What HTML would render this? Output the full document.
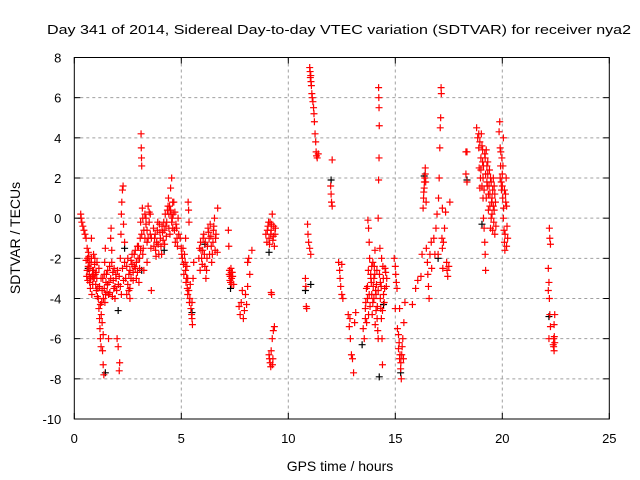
<!DOCTYPE html>
<html><head><meta charset="utf-8"><style>
body{margin:0;background:#fff}
svg{display:block;font-family:"Liberation Sans",sans-serif}
</style></head><body>
<svg id="chart" width="640" height="480" viewBox="0 0 640 480" xmlns="http://www.w3.org/2000/svg">
<rect width="640" height="480" fill="#fff"/>
<text x="339" y="34" font-size="13" text-anchor="middle" textLength="584" lengthAdjust="spacingAndGlyphs">Day 341 of 2014, Sidereal Day-to-day VTEC variation (SDTVAR) for receiver nya2</text>
<g id="grid"></g>
<g id="marksB"></g>
<g id="marksR"></g>
<g id="axes"></g>
<text x="340" y="471" font-size="14" text-anchor="middle">GPS time / hours</text>
<text x="0" y="0" font-size="14" text-anchor="middle" transform="translate(20,238) rotate(-90)">SDTVAR / TECUs</text>
</svg>
<script>
const xTicks=[0,5,10,15,20,25];
const yTicks=[-10,-8,-6,-4,-2,0,2,4,6,8];
const redHours=[0.30,0.32,0.35,0.40,0.45,0.50,0.55,0.60,0.62,0.65,0.70,0.72,0.75,0.78,0.80,0.85,0.88,0.90,0.95,1.00,1.02,0.58,0.68,0.82,
1.05,1.10,1.12,1.15,1.18,1.20,1.22,1.25,1.28,1.30,1.32,1.35,1.38,1.40,1.42,1.45,1.48,1.35,1.25,1.15,
1.55,1.60,1.65,1.70,1.72,1.75,1.80,1.85,1.90,1.95,2.00,2.05,2.10,2.12,2.15,2.18,2.20,2.22,2.25,2.28,2.30,2.35,1.60,
2.45,2.50,2.55,2.60,2.65,2.70,2.75,2.80,2.85,2.90,2.95,2.98,2.60,
3.02,3.05,3.08,3.10,3.12,3.13,3.14,3.15,3.18,3.20,3.22,3.25,3.30,3.35,3.40,3.45,3.50,3.55,3.58,3.60,3.40,
3.70,3.75,3.80,3.85,3.90,3.95,4.00,4.05,4.10,4.15,4.20,4.25,4.30,
4.35,4.40,4.45,4.50,4.55,4.58,4.60,4.65,4.70,4.75,4.80,4.85,4.42,4.52,
4.95,5.00,5.05,5.10,5.15,5.20,5.25,5.28,5.30,5.32,5.34,5.36,5.40,5.45,5.50,5.52,5.55,5.58,5.20,
5.85,5.90,5.95,6.00,6.05,6.10,6.15,6.20,6.25,6.30,6.35,6.40,6.45,6.50,6.55,6.60,6.70,6.68,
7.20,7.22,7.25,7.28,7.30,7.32,7.35,7.38,7.45,
7.70,7.75,7.80,7.85,7.90,7.95,8.00,8.05,8.10,8.15,8.30,8.20,8.10,
8.95,9.00,9.05,9.10,9.15,9.20,9.25,9.30,9.35,9.40,9.20,9.22,9.10,9.15,9.18,9.25,9.30,9.35,9.28,
10.80,10.82,10.84,10.86,10.90,10.92,10.95,11.00,11.02,11.05,11.08,11.10,11.15,11.20,11.22,11.25,11.28,11.30,11.35,11.40,11.00,11.05,
12.05,11.98,12.00,12.02,12.05,
12.35,12.40,12.42,12.45,12.50,12.55,12.50,
12.80,12.85,12.90,12.95,13.00,13.05,12.88,13.10,13.15,
13.50,13.55,13.60,13.65,13.70,13.72,13.75,13.78,13.80,13.85,13.88,13.90,13.95,14.00,14.02,14.05,14.08,14.10,14.15,14.18,14.20,14.22,14.23,14.24,14.25,14.24,14.22,14.20,14.28,14.30,14.32,14.35,14.38,14.40,14.42,14.45,14.50,14.55,14.60,13.60,13.75,13.95,14.12,
14.95,15.00,15.02,15.05,15.08,15.00,15.10,15.15,15.20,15.25,15.28,15.30,15.35,15.40,15.45,15.20,15.15,
15.80,15.95,16.05,16.20,16.25,16.30,16.32,16.35,16.38,16.40,16.42,16.45,16.50,16.52,16.55,16.58,16.62,16.68,16.70,
16.80,16.85,16.90,16.95,17.00,17.02,17.05,17.08,17.10,17.12,17.14,17.15,17.18,17.20,17.22,17.25,17.30,17.35,17.40,17.42,17.45,17.50,17.55,17.20,
18.30,18.35,18.30,18.35,
18.80,18.85,18.90,18.92,18.95,18.98,19.00,19.02,19.05,19.08,19.10,19.12,19.15,19.18,19.20,19.22,19.25,19.28,19.30,19.32,19.35,19.40,19.42,19.45,19.48,19.50,19.52,19.55,19.58,19.60,19.62,19.65,19.70,19.10,19.20,
19.85,19.88,19.90,19.92,19.95,19.98,20.00,20.02,20.05,20.08,20.10,20.12,20.15,20.18,20.20,20.22,20.25,20.05,
22.20,22.22,22.25,22.15,22.18,22.15,22.20,22.22,22.25,22.18,22.45,22.42,22.40,22.38,22.42,22.45];
const redValues=[0.2,0.0,-0.2,-0.4,-0.6,-0.8,-1.0,-1.5,-2.0,-2.4,-2.8,-3.2,-3.5,-2.2,-1.0,-2.6,-3.0,-1.8,-2.3,-3.3,-2.7,-2.9,-1.9,-3.8,
-3.0,-3.5,-4.0,-4.5,-5.0,-5.5,-6.0,-6.4,-4.2,-3.6,-6.6,-7.3,-7.8,-2.8,-2.2,-1.5,-3.2,-5.8,-3.0,-2.5,
-3.3,-3.8,-2.4,-1.0,-0.5,-1.6,-2.7,-3.5,-4.0,-3.0,-6.0,-6.4,-7.6,-7.2,-2.0,-0.8,0.2,0.8,1.4,1.6,-0.3,-1.2,-6.0,
-3.8,-3.3,-2.8,-3.5,-3.0,-2.3,-2.7,-1.8,-2.5,-3.0,-1.4,-2.0,-4.0,
-3.2,-2.0,-1.0,-0.2,4.2,3.5,3.0,2.6,0.5,0.0,-1.5,-2.6,0.2,-0.3,-1.2,0.6,0.3,-0.8,-1.5,-3.6,-2.2,
-0.5,-1.0,-1.6,-1.2,-0.2,-1.8,-0.7,-1.4,-0.4,-1.1,-0.6,0.2,-0.9,
0.4,1.0,0.6,1.5,2.0,0.0,-0.5,0.8,0.3,-0.3,-1.0,0.0,-0.5,0.2,
-1.0,-1.5,-2.0,-2.3,-1.8,-2.6,-3.0,-3.5,-3.8,0.8,0.4,-0.2,-4.0,-4.5,-5.0,-5.3,-3.0,-2.2,-1.0,
-1.5,-1.2,-2.0,-1.6,-0.8,-2.4,-3.0,-2.0,-0.5,-1.0,-0.3,-1.4,-1.8,-0.6,0.0,-1.0,0.5,-1.7,
-0.6,-1.4,-2.6,-2.9,-3.2,-2.5,-3.0,-2.7,-3.3,
-4.4,-4.8,-4.2,-3.6,-5.0,-4.6,-3.8,-4.3,-2.2,-2.0,-1.6,-2.8,-3.4,
-0.8,-1.2,-0.4,-1.0,-0.2,-0.6,0.2,-0.9,-1.4,-0.5,-3.7,-3.8,-6.8,-7.2,-7.4,-6.0,-5.6,-5.4,-7.0,
-3.0,-3.4,-4.4,-4.5,-0.3,-0.8,-1.2,7.5,7.3,7.1,6.6,6.2,5.8,5.2,4.8,4.2,3.8,3.3,3.0,3.2,-1.5,-1.8,
2.9,1.6,1.2,0.8,0.6,
-2.2,-2.6,-3.0,-3.4,-3.8,-4.0,-2.3,
-4.8,-5.4,-6.0,-6.8,-7.0,-7.7,-5.0,-5.2,-4.7,
-5.5,-6.0,-4.5,-3.5,-4.0,-0.1,-0.5,-1.2,-2.0,-2.8,-3.2,-3.8,-4.2,-3.0,-2.4,-1.6,-3.6,-4.6,-5.0,-5.6,-6.0,6.5,6.0,5.5,4.6,3.0,1.9,0.0,-1.5,-3.2,-4.5,-5.0,-6.0,-7.3,-2.4,-3.8,-3.5,-2.7,-3.0,-5.0,-4.8,-2.2,-3.3,
-2.0,-2.4,-2.8,-3.2,-3.5,-4.5,-5.5,-6.5,-7.0,-7.5,-8.0,-6.8,-6.0,-5.2,-4.2,-4.5,-5.8,
-4.3,-3.5,-3.1,-2.9,-1.8,0.5,1.0,1.5,2.0,2.5,1.8,-1.5,-2.2,-2.8,-3.4,-4.0,-1.8,-1.2,-2.5,
-1.0,-1.8,-0.5,0.2,-1.8,1.0,2.0,3.5,4.5,5.0,6.5,6.2,-1.0,-1.5,-2.5,-1.2,-0.5,0.3,-2.2,-2.6,-2.9,-2.4,0.8,0.5,
3.3,3.3,2.2,1.8,
4.5,4.0,3.5,2.5,1.5,2.0,3.0,4.2,3.6,2.8,1.0,0.0,-0.5,-1.2,-1.8,-2.6,3.4,2.6,1.6,2.2,1.2,2.4,0.6,-0.5,1.8,0.8,0.2,1.4,2.0,-0.2,0.4,1.2,-0.4,2.0,3.0,
4.3,4.8,3.5,2.6,1.8,3.0,2.2,1.0,0.0,-0.6,-1.2,-1.6,1.2,2.0,0.6,-0.4,-1.0,4.0,
-0.5,-1.0,-1.3,-2.5,-3.2,-3.6,-4.0,-4.8,-5.4,-6.0,-4.8,-5.3,-6.0,-6.3,-6.6,-6.2];
const redHoursDense=[0.55,0.60,0.63,0.66,0.70,0.73,0.76,0.80,0.83,0.86,0.90,0.93,0.96,0.98,1.03,1.06,1.08,
1.18,1.22,1.26,1.30,1.33,1.36,1.40,1.43,1.46,1.50,1.53,1.56,
1.62,1.66,1.70,1.75,1.78,1.82,1.86,1.90,1.94,1.98,2.02,2.06,
2.10,2.15,2.20,2.25,2.30,2.35,2.40,2.45,2.50,2.55,2.60,2.65,2.70,2.75,2.80,2.85,2.90,2.95,
3.00,3.05,3.10,3.15,3.20,3.25,3.30,3.35,3.40,3.45,3.50,3.55,3.60,
3.72,3.78,3.82,3.88,3.92,3.98,4.02,4.08,4.12,4.18,4.22,4.28,
4.32,4.38,4.42,4.47,4.50,4.55,4.60,4.62,4.68,4.72,4.78,4.82,4.88,
5.02,5.08,5.12,5.18,5.22,5.26,5.30,5.35,5.38,5.42,5.48,5.50,
5.82,5.88,5.92,5.98,6.02,6.08,6.12,6.18,6.22,6.28,6.32,6.38,6.42,6.48,6.52,6.58,6.62,
7.24,7.27,7.33,7.36,7.40,
9.02,9.08,9.12,9.18,9.22,9.28,9.32,9.38,9.12,9.20,9.26,
11.03,11.06,11.12,11.18,11.32,
13.62,13.66,13.70,13.74,13.78,13.82,13.86,13.90,13.92,13.97,14.00,14.04,14.06,14.10,14.14,14.16,14.20,14.26,14.30,14.34,14.36,14.40,14.44,14.48,14.52,14.58,
15.18,15.22,15.26,15.32,15.38,
16.33,16.36,16.40,16.44,
18.90,18.95,19.00,19.05,19.08,19.12,19.15,19.18,19.22,19.25,19.28,19.32,19.35,19.38,19.42,19.45,19.48,19.52,19.55,19.58,19.62,19.65,19.68,
19.90,19.93,19.96,20.00,20.03,20.06,20.10,20.13,20.16,20.20,
22.40,22.43];
const redValuesDense=[-2.1,-2.6,-3.1,-1.7,-2.2,-2.5,-3.0,-2.0,-2.9,-3.3,-2.6,-3.0,-2.0,-2.8,-3.6,-2.2,-3.9,
-3.4,-4.3,-4.8,-5.2,-3.0,-4.0,-3.5,-4.2,-3.8,-2.8,-3.7,-2.6,
-3.2,-3.7,-3.0,-2.2,-3.9,-3.1,-2.5,-3.4,-2.8,-3.6,-2.6,-3.3,
-2.9,-3.4,-3.8,-2.5,-3.1,-2.2,-3.0,-2.4,-2.0,-3.6,-2.6,-2.1,-1.8,-3.1,-2.4,-1.6,-2.2,-2.7,
-1.4,-2.5,-1.6,-0.8,-1.8,-0.6,-1.0,0.0,-0.6,-1.0,-0.2,0.2,-1.0,
-1.4,-0.8,-1.9,-0.6,-1.3,-0.3,-1.0,-1.8,-0.7,-0.2,-1.3,-0.4,
-0.2,0.6,0.2,-0.8,0.4,-0.2,0.8,0.2,-0.6,-1.2,-0.5,-1.4,-0.8,
-1.8,-1.5,-2.8,-2.2,-3.2,-2.4,-3.0,-3.6,-4.2,-3.3,-4.8,-4.2,
-2.0,-2.6,-1.6,-2.3,-1.0,-1.8,-1.2,-2.6,-1.4,-0.7,-1.8,-0.9,-2.2,-1.2,-0.4,-1.6,-0.8,
-2.8,-3.1,-2.7,-3.3,-2.9,
-0.6,-0.2,-1.3,-0.8,-0.3,-1.1,-0.4,-0.8,-7.0,-6.6,-7.3,
7.0,6.8,6.0,5.5,3.1,
-4.2,-5.2,-3.4,-2.6,-3.8,-4.4,-3.0,-2.4,-4.8,-3.4,-4.0,-2.8,-5.3,-3.8,-2.6,-4.4,-3.6,-2.8,-4.0,-3.4,-2.0,-4.6,-3.0,-4.2,-2.5,-3.4,
-6.2,-6.8,-7.2,-6.4,-7.0,
1.3,1.8,2.2,0.8,
4.2,3.8,2.4,1.6,3.4,2.6,1.4,3.2,2.2,1.0,1.8,2.8,0.4,1.6,1.2,2.0,0.0,1.0,-0.6,0.6,1.6,-0.8,0.8,
2.0,3.3,1.4,1.6,2.6,0.5,1.4,-0.8,0.8,-1.4,
-6.4,-5.9];
const blackHours=[0.65,2.35,4.20,6.10,9.10,10.80,12.00,14.25,15.25,16.35,18.35,19.05,22.18,13.45,11.05,2.05,5.50,3.15,7.30,1.45,14.45,17.00];
const blackValues=[-2.5,-1.5,-1.6,-1.3,-1.7,-3.6,1.9,-7.9,-7.7,2.1,1.9,-0.3,-4.9,-6.3,-3.3,-4.6,-4.7,-2.6,-3.5,-7.7,-4.3,-2.0];

const X0=74.3,X1=609.3,Y0=419,Y1=57.5;
const xs=h=>X0+(h-0)/(25-0)*(X1-X0);
const ys=v=>Y0-(v-(-10))/(8-(-10))*(Y0-Y1);
const NS="http://www.w3.org/2000/svg";
function mk(tag,attrs,parent){const e=document.createElementNS(NS,tag);for(const k in attrs)e.setAttribute(k,attrs[k]);parent.appendChild(e);return e;}
const grid=document.getElementById('grid'),axes=document.getElementById('axes');
xTicks.forEach(t=>{
  const x=xs(t);
  if(t>0&&t<25){const l=mk('line',{x1:x,x2:x,y1:Y1,y2:Y0,stroke:'#a0a0a0','stroke-dasharray':'3,3','stroke-width':1},grid);
  
  }
  mk('line',{x1:x,x2:x,y1:Y0,y2:Y0-6,stroke:'#000'},axes);
  mk('line',{x1:x,x2:x,y1:Y1,y2:Y1+6,stroke:'#000'},axes);
  const tx=mk('text',{x:x,y:Y0+24,'font-size':13,'text-anchor':'middle'},axes);tx.textContent=t;
  
  
});
yTicks.forEach(t=>{
  const y=ys(t);
  if(t>-10&&t<8){const l=mk('line',{x1:X0,x2:X1,y1:y,y2:y,stroke:'#a0a0a0','stroke-dasharray':'3,3','stroke-width':1},grid);
  
  }
  mk('line',{x1:X0,x2:X0+6,y1:y,y2:y,stroke:'#000'},axes);
  mk('line',{x1:X1,x2:X1-6,y1:y,y2:y,stroke:'#000'},axes);
  const tx=mk('text',{x:X0-13,y:y+5,'font-size':13,'text-anchor':'end'},axes);tx.textContent=t;
  
  
});
const fr=mk('rect',{x:X0,y:Y1,width:X1-X0,height:Y0-Y1,fill:'none',stroke:'#000','stroke-width':1},axes);


function plus(g,h,v,col){
  const x=xs(h),y=ys(v);
  const p=mk('path',{d:`M${x-3.5},${y}H${x+3.5}M${x},${y-3.5}V${y+3.5}`,stroke:col,'stroke-width':1.2,fill:'none'},g);
  
  
}
const gB=document.getElementById('marksB'),gR=document.getElementById('marksR');
blackHours.forEach((h,i)=>plus(gB,h,blackValues[i],'#000'));
redHours.forEach((h,i)=>plus(gR,h,redValues[i],'#ff0000'));
redHoursDense.forEach((h,i)=>plus(gR,h,redValuesDense[i],'#ff0000'));
</script>
</body></html>
